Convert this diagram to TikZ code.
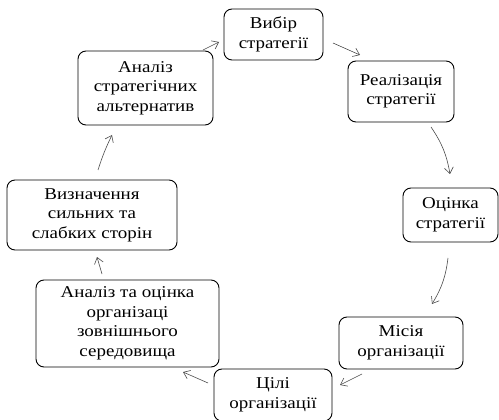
\documentclass[tikz,border=0pt]{standalone}
\usepackage{fontspec}
\setmainfont[FakeStretch=1.15]{Liberation Serif}
\usetikzlibrary{arrows.meta}
\begin{document}
\begin{tikzpicture}[x=1pt,y=-1pt,
  box/.style={draw=black,line width=0.9pt,rounded corners=8pt,align=center,inner sep=0pt,
    font=\fontsize{16.5}{19.5}\selectfont},
  conn/.style={draw=black!70,line width=0.6pt,-{Straight Barb[length=6pt,width=9pt]}}]
\useasboundingbox (0,0) rectangle (499,420);
\node[box,minimum width=99pt,minimum height=51pt] (vybir) at (273.5,34.5) {Вибір\\стратегії};
\node[box,minimum width=106pt,minimum height=61pt] (real) at (401,91.5) {Реалізація\\стратегії};
\node[box,minimum width=95pt,minimum height=54pt] (ocinka) at (450.5,215) {Оцінка\\стратегії};
\node[box,minimum width=124pt,minimum height=52pt] (misia) at (401,343) {Місія\\організації};
\node[box,minimum width=118pt,minimum height=52pt] (cili) at (273,395) {Цілі\\організації};
\node[box,minimum width=183pt,minimum height=87pt] (anzov) at (127.5,323.5) {Аналіз та оцінка\\організаці\\зовнішнього\\середовища};
\node[box,minimum width=170pt,minimum height=70pt] (vyzn) at (92,215) {Визначення\\сильних та\\слабких сторін};
\node[box,minimum width=135pt,minimum height=74pt] (anstr) at (145.5,88) {Аналіз\\стратегічних\\альтернатив};
% arrow end points
\coordinate (a1s) at (203,50);  \coordinate (a1e) at (219,42);
\coordinate (a2s) at (333,43);  \coordinate (a2e) at (360,55);
\coordinate (a3s) at (431,127); \coordinate (a3e) at (450,174);
\coordinate (a4s) at (448,258); \coordinate (a4e) at (432,304);
\coordinate (a5s) at (362,374); \coordinate (a5e) at (340,385);
\coordinate (a6s) at (208,383); \coordinate (a6e) at (183,372);
\coordinate (a7s) at (102,274); \coordinate (a7e) at (97,257);
\coordinate (a8s) at (98,170);  \coordinate (a8e) at (112,135);
\draw[conn] (a1s) -- (a1e);
\draw[conn] (a2s) -- (a2e);
\draw[conn] (a3s) to[bend left=12] (a3e);
\draw[conn] (a4s) to[bend left=12] (a4e);
\draw[conn] (a5s) -- (a5e);
\draw[conn] (a6s) -- (a6e);
\draw[conn] (a7s) -- (a7e);
\draw[conn] (a8s) to[bend left=4] (a8e);
\end{tikzpicture}
\end{document}
